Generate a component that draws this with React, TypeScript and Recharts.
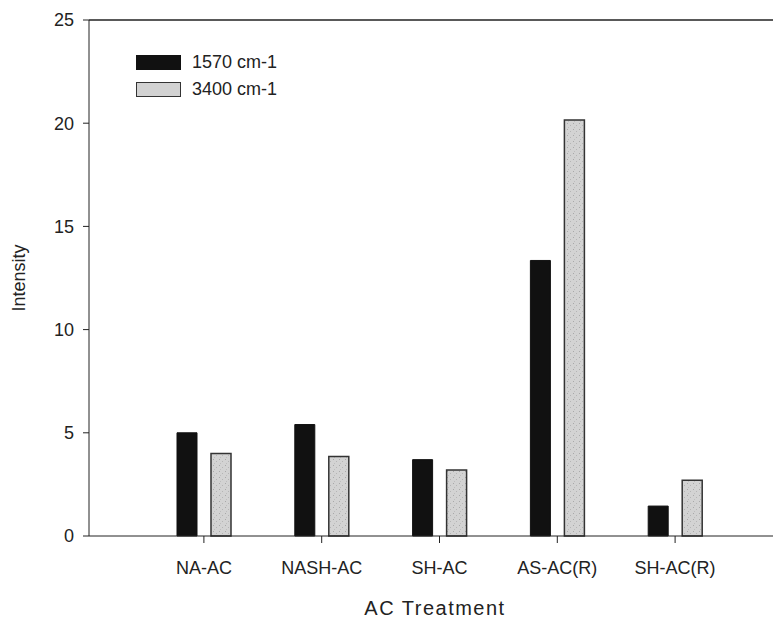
import React from 'react';
import { BarChart, Bar, XAxis, YAxis, ReferenceLine } from 'recharts';

const categories = ['NA-AC', 'NASH-AC', 'SH-AC', 'AS-AC(R)', 'SH-AC(R)'];
const band1570 = [5.0, 5.4, 3.7, 13.35, 1.45];
const band3400 = [4.0, 3.85, 3.2, 20.15, 2.7];
const yTicks = [0, 5, 10, 15, 20, 25];

const data = categories.map((name, i) => ({
    name,
    b1570: band1570[i],
    b3400: band3400[i],
}));

const FONT = '"Liberation Sans", Arial, sans-serif';
const INK = '#222';

const LegendBox = () => (
    <div style={{ position: 'absolute', left: 128, top: 41, fontFamily: FONT, fontSize: 18, color: INK, lineHeight: '27px' }}>
        <div style={{ display: 'flex', alignItems: 'center' }}>
            <span style={{ width: 43, height: 13, background: '#111', border: '1px solid #111', marginRight: 11 }} />
            <span>1570 cm-1</span>
        </div>
        <div style={{ display: 'flex', alignItems: 'center' }}>
            <span style={{ width: 43, height: 13, background: '#d2d2d2', border: '1px solid #333', marginRight: 11 }} />
            <span>3400 cm-1</span>
        </div>
    </div>
);

export default function App() {
    return (
        <div style={{ position: 'relative', width: 773, height: 614, overflow: 'hidden', background: '#fff' }}>
            <BarChart
                width={773}
                height={614}
                data={data}
                margin={{ top: 12, right: 0, left: 11, bottom: 7 }}
                barSize={20}
                barGap={14}
            >
                <defs>
                    <pattern id="speckle" width="6" height="6" patternUnits="userSpaceOnUse">
                        <rect width="6" height="6" fill="#d3d3d3" />
                        <rect x="1" y="1" width="1" height="1" fill="#a9a9a9" />
                        <rect x="4" y="3" width="1" height="1" fill="#b5b5b5" />
                        <rect x="2" y="5" width="1" height="1" fill="#bdbdbd" />
                    </pattern>
                </defs>
                <XAxis
                    dataKey="name"
                    padding={{ left: 56, right: 47 }}
                    height={79}
                    stroke={INK}
                    tickSize={7}
                    tickMargin={18}
                    tick={{ fill: INK, fontSize: 18, fontFamily: FONT }}
                    label={{ value: 'AC Treatment', position: 'insideBottom', offset: 0, fill: INK, fontSize: 20, fontFamily: FONT, letterSpacing: 1.5 }}
                />
                <YAxis
                    domain={[0, 25]}
                    ticks={yTicks}
                    width={70}
                    stroke={INK}
                    tickSize={6}
                    tickMargin={9}
                    tick={{ fill: INK, fontSize: 18, fontFamily: FONT }}
                    label={{ value: 'Intensity', angle: -90, position: 'insideLeft', offset: 0, textAnchor: 'middle', fill: INK, fontSize: 18, fontFamily: FONT }}
                />
                <ReferenceLine y={25} stroke={INK} strokeWidth={1.5} />
                <Bar dataKey="b1570" name="1570 cm-1" fill="#111" stroke="#111" isAnimationActive={false} />
                <Bar dataKey="b3400" name="3400 cm-1" fill="url(#speckle)" stroke="#333" strokeWidth={1.5} isAnimationActive={false} />
            </BarChart>
            <LegendBox />
        </div>
    );
}
